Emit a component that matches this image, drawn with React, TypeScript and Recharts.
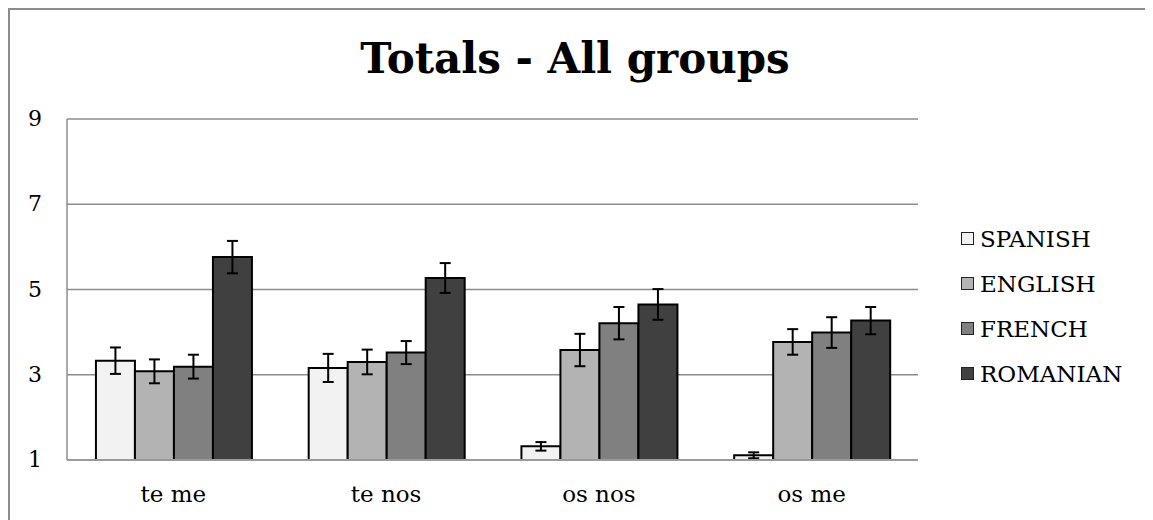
import React from "react";
import { BarChart, Bar, XAxis, YAxis, CartesianGrid, ErrorBar, Legend } from "recharts";

const categories = ["te me", "te nos", "os nos", "os me"];
const spanish = [3.33, 3.16, 1.32, 1.11];
const spanishErr = [0.31, 0.33, 0.1, 0.07];
const english = [3.08, 3.3, 3.58, 3.77];
const englishErr = [0.28, 0.29, 0.38, 0.3];
const french = [3.19, 3.52, 4.21, 3.99];
const frenchErr = [0.28, 0.27, 0.38, 0.36];
const romanian = [5.76, 5.27, 4.65, 4.27];
const romanianErr = [0.38, 0.35, 0.36, 0.32];
const yTicks = [1, 3, 5, 7, 9];

const series = [
  { key: "SPANISH", color: "#f2f2f2" },
  { key: "ENGLISH", color: "#b3b3b3" },
  { key: "FRENCH", color: "#808080" },
  { key: "ROMANIAN", color: "#404040" },
];

const data = categories.map((name, i) => ({
  name,
  SPANISH: spanish[i],
  SPANISH_err: spanishErr[i],
  ENGLISH: english[i],
  ENGLISH_err: englishErr[i],
  FRENCH: french[i],
  FRENCH_err: frenchErr[i],
  ROMANIAN: romanian[i],
  ROMANIAN_err: romanianErr[i],
}));

const FONT = "'DejaVu Serif', serif";

function YTick(props: any) {
  const { y, payload } = props;
  return (
    <text x={27} y={y} dy={7} textAnchor="middle" fontFamily={FONT} fontSize={22} fill="#000">
      {payload.value}
    </text>
  );
}

function XTick(props: any) {
  const { x, y, payload } = props;
  return (
    <text x={x} y={y} dy={34} textAnchor="middle" fontFamily={FONT} fontSize={23} fill="#000">
      {payload.value}
    </text>
  );
}

function LegendBox() {
  return (
    <div style={{ fontFamily: FONT, fontSize: 23, color: "#000" }}>
      {series.map((s) => (
        <div key={s.key} style={{ display: "flex", alignItems: "center", height: 45 }}>
          <span
            style={{
              display: "inline-block",
              width: 11,
              height: 11,
              background: s.color,
              border: "1.5px solid #222",
              marginRight: 6,
            }}
          />
          {s.key}
        </div>
      ))}
    </div>
  );
}

export default function App() {
  return (
    <div
      style={{
        position: "relative",
        width: 1145,
        height: 512,
        borderTop: "2px solid #8c8c8c",
        borderLeft: "2px solid #8c8c8c",
        boxSizing: "border-box",
      }}
    >
      <div
        style={{
          position: "absolute",
          left: 0,
          width: 1130,
          top: 24,
          textAlign: "center",
          fontFamily: FONT,
          fontWeight: "bold",
          fontSize: 42,
        }}
      >
        Totals - All groups
      </div>
      <div style={{ position: "absolute", left: -2, top: -2 }}>
        <BarChart
          width={1145}
          height={512}
          data={data}
          margin={{ top: 111, right: 235, bottom: 0, left: 0 }}
          barCategoryGap="13.6%"
          barGap={0}
        >
          <CartesianGrid vertical={false} stroke="#8c8c8c" strokeWidth={1.5} />
          <XAxis
            dataKey="name"
            height={60}
            tickLine={false}
            axisLine={{ stroke: "#9a9a9a", strokeWidth: 2 }}
            tick={<XTick />}
          />
          <YAxis
            width={59}
            domain={[1, 9]}
            ticks={yTicks}
            interval={0}
            tickLine={false}
            axisLine={{ stroke: "#8c8c8c", strokeWidth: 1.5 }}
            tick={<YTick />}
          />
          <Legend
            layout="horizontal"
            align="center"
            verticalAlign="middle"
            content={<LegendBox />}
            wrapperStyle={{ left: 953, top: 208, width: 190 }}
          />
          {series.map((s) => (
            <Bar
              key={s.key}
              dataKey={s.key}
              fill={s.color}
              stroke="#000"
              strokeWidth={2}
              isAnimationActive={false}
            >
              <ErrorBar dataKey={`${s.key}_err`} width={5.5} stroke="#000" strokeWidth={2} />
            </Bar>
          ))}
        </BarChart>
      </div>
    </div>
  );
}
